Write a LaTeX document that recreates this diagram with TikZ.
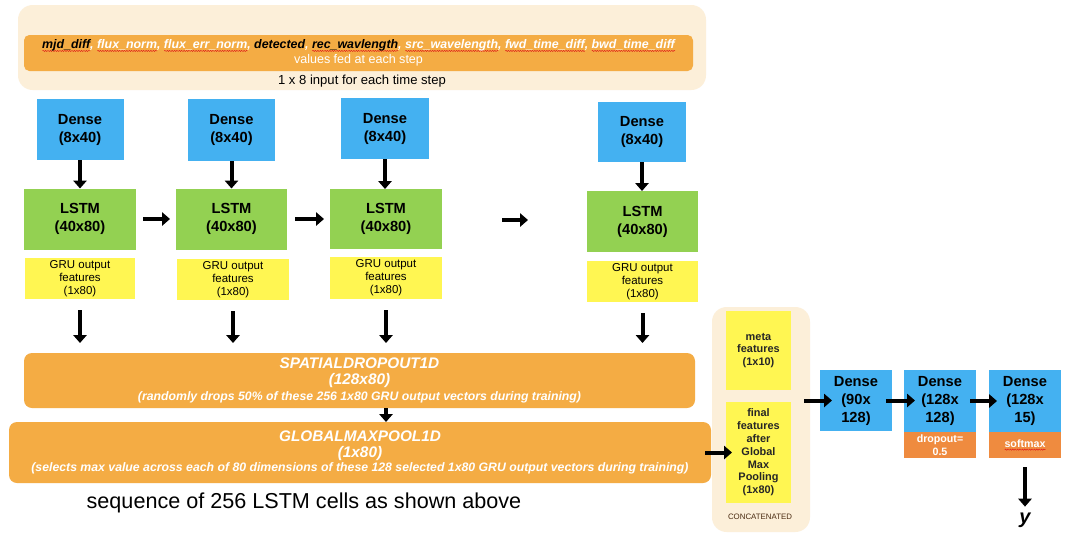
\documentclass[tikz,border=0pt]{standalone}
\usepackage{fontspec}
\setmainfont{Liberation Sans}
\usetikzlibrary{arrows.meta,decorations.pathmorphing}
\definecolor{cream}{HTML}{FCEFD9}
\definecolor{corange}{HTML}{F4AC44}
\definecolor{cblue}{HTML}{44B1F1}
\definecolor{cgreen}{HTML}{93D152}
\definecolor{cyellow}{HTML}{FFF652}
\definecolor{cdorange}{HTML}{EF8B3F}
\definecolor{cbrown}{HTML}{4A2A10}
\definecolor{squig}{HTML}{E0201A}
\newsavebox\rwbox
\newcommand\rwave[1]{\sbox\rwbox{#1}\rlap{\tikz[x=1pt,y=1pt,baseline=0pt]\draw[squig, sharp corners, line width=0.35pt, decorate, decoration={snake, amplitude=0.45pt, segment length=1.8pt}] (0pt,-1.8pt) -- (\the\wd\rwbox,-1.8pt);}\usebox\rwbox}
\newcommand\bigbi{\bfseries\itshape\fontsize{11.5}{13.5}\selectfont}
\tikzset{
  sz/.style 2 args={minimum width=#1*0.75pt, minimum height=#2*0.75pt},
  box/.style={inner sep=0pt, outer sep=0pt, align=center, text=black},
  densebox/.style={box, fill=cblue, font=\bfseries\fontsize{11}{13.5}\selectfont},
  lstmbox/.style={box, fill=cgreen, font=\bfseries\fontsize{11}{13.5}\selectfont},
  grubox/.style={box, fill=cyellow, font=\fontsize{8.6}{9.75}\selectfont},
  featbox/.style={box, fill=cyellow, font=\bfseries\fontsize{8.2}{9.6}\selectfont, text=black!85},
  obar/.style={box, fill=corange, rounded corners=4pt, text=white},
  actbox/.style={box, fill=cdorange, text=white, font=\bfseries\fontsize{8}{9.5}\selectfont},
  creambox/.style={box, fill=cream, rounded corners=11pt},
  arr/.style={line width=3pt, -{Triangle[length=6pt,width=10pt]}},
}
\begin{document}
\begin{tikzpicture}[x=0.75pt,y=-0.75pt]
\useasboundingbox (0,0) rectangle (1068,537);
\fill[white] (0,0) rectangle (1068,537);

% top input box
\node[creambox, sz={688}{85}] (top) at (362,47.5) {};
\node[obar, sz={669}{36}] (bar) at (358.5,53) {{\bfseries\itshape\fontsize{9.3}{12}\selectfont {\color{black}\rwave{mjd\_diff}}, \rwave{flux\_norm}, \rwave{flux\_err\_norm}, {\color{black}detected}, {\color{black}\rwave{rec\_wavlength}}, \rwave{src\_wavelength}, \rwave{fwd\_time\_diff}, \rwave{bwd\_time\_diff}}\\[-0.5pt]{\fontsize{9.4}{12}\selectfont values fed at each step}};
\node[box, font=\fontsize{9.8}{11}\selectfont] (inp) at (362,81) {1 x 8 input for each time step};

% dense row
\node[densebox, sz={87}{61}] (d1) at (80,129.5) {Dense\\(8x40)};
\node[densebox, sz={87}{62}] (d2) at (231.5,130) {Dense\\(8x40)};
\node[densebox, sz={88}{61}] (d3) at (385,128.5) {Dense\\(8x40)};
\node[densebox, sz={88}{60}] (d4) at (642,132) {Dense\\(8x40)};

% lstm row
\node[lstmbox, sz={112}{61}] (l1) at (80,219) {LSTM\\(40x80)};
\node[lstmbox, sz={111}{61}] (l2) at (231.5,219) {LSTM\\(40x80)};
\node[lstmbox, sz={112}{60}] (l3) at (386,219) {LSTM\\(40x80)};
\node[lstmbox, sz={111}{61}] (l4) at (642.5,221.5) {LSTM\\(40x80)};

% gru row
\node[grubox, sz={110}{41}] (g1) at (80,278.5) {GRU output\\features\\(1x80)};
\node[grubox, sz={112}{41}] (g2) at (233,279.5) {GRU output\\features\\(1x80)};
\node[grubox, sz={112}{42}] (g3) at (386,278) {GRU output\\features\\(1x80)};
\node[grubox, sz={111}{41}] (g4) at (642.5,281.5) {GRU output\\features\\(1x80)};

% spatial dropout
\node[obar, rounded corners=6pt, sz={671}{55}] (sp) at (359.5,380.5) {{\bigbi SPATIALDROPOUT1D}\\{\bigbi (128x80)}\\{\bfseries\itshape\fontsize{9.2}{13.5}\selectfont (randomly drops 50\% of these 256 1x80 GRU output vectors during training)}};
% global max pool
\node[obar, rounded corners=6pt, sz={702}{61}] (gl) at (360,452.5) {{\bigbi GLOBALMAXPOOL1D}\\{\bigbi (1x80)}\\[-1pt]{\bfseries\itshape\fontsize{9.2}{13.5}\selectfont (selects max value across each of 80 dimensions of these 128 selected 1x80 GRU output vectors during training)}};

\node[box, font=\fontsize{16.2}{18}\selectfont] (seq) at (304,503) {sequence of 256 LSTM cells as shown above};

% concatenated
\node[creambox, sz={98}{225}] (cat) at (761,419.5) {};
\node[featbox, sz={65}{79}] (meta) at (758.5,350.5) {meta\\features\\(1x10)};
\node[featbox, sz={65}{101}] (final) at (758.5,452.5) {final\\features\\after\\Global\\Max\\Pooling\\(1x80)};
\node[box, text=cbrown, font=\fontsize{5.9}{7}\selectfont] (catl) at (760,517) {CONCATENATED};

% final dense layers
\node[densebox, sz={72}{61}] (r1) at (856,400.5) {Dense\\(90x\\128)};
\node[densebox, sz={72}{62}] (r2) at (940,401) {Dense\\(128x\\128)};
\node[densebox, sz={72}{62}] (r3) at (1025,401) {Dense\\(128x\\15)};
\node[actbox, sz={72}{26}, anchor=north] (drop) at (r2.south) {dropout=\\0.5};
\node[actbox, sz={72}{26}, anchor=north] (sm) at (r3.south) {\rwave{softmax}};
\node[box, font=\bfseries\itshape\fontsize{15}{18}\selectfont] (y) at (1025,520) {y};

% arrows
\foreach \i in {1,2,3,4} {
  \draw[arr] (d\i.south) -- (d\i.south |- l\i.north);
  \draw[arr, shorten <=11*0.75pt, shorten >=10*0.75pt] (g\i.south) -- (g\i.south |- sp.north);
}
\draw[arr, shorten <=7*0.75pt, shorten >=6*0.75pt] (l1.east) -- (l2.west);
\draw[arr, shorten <=8*0.75pt, shorten >=6*0.75pt] (l2.east) -- (l3.west);
\coordinate (ga) at (502,220);
\coordinate (gb) at (528,220);
\draw[arr] (ga) -- (gb);
\draw[arr] (g3.south |- sp.south) -- (g3.south |- gl.north);
\draw[arr, shorten <=-6*0.75pt, shorten >=-6*0.75pt] (gl.east) -- (final.west);
\draw[arr, shorten <=-6*0.75pt, shorten >=-12*0.75pt] (cat.east |- r1.west) -- (r1.west);
\draw[arr, shorten <=-6*0.75pt, shorten >=-11*0.75pt] (r1.east) -- (r2.west |- r1.east);
\draw[arr, shorten <=-6*0.75pt, shorten >=-8*0.75pt] (r2.east) -- (r3.west |- r2.east);
\draw[arr, shorten <=9*0.75pt, shorten >=6*0.75pt] (sm.south) -- (y.north);
\end{tikzpicture}
\end{document}
